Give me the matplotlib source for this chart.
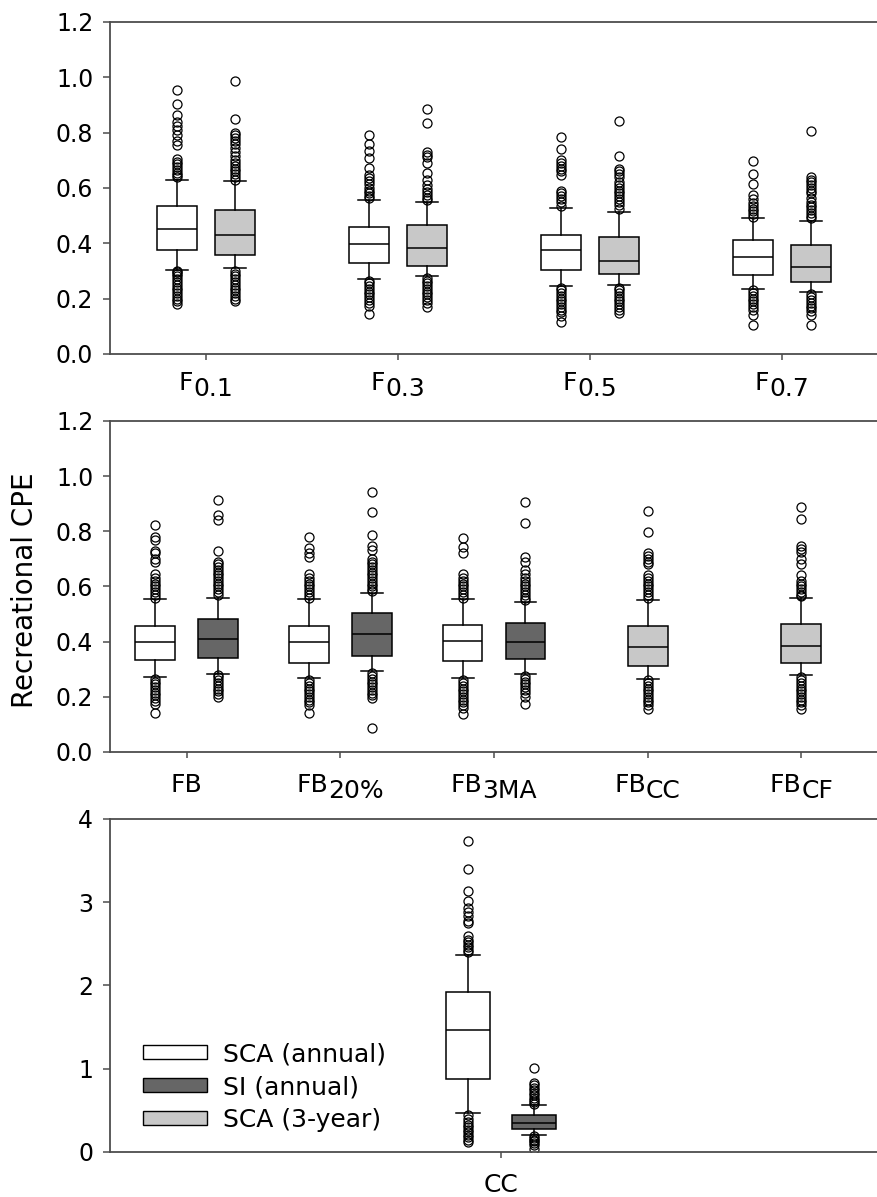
import matplotlib
matplotlib.use("Agg")
import matplotlib.pyplot as plt
from matplotlib.patches import Patch
from matplotlib.transforms import offset_copy

# --- series ---------------------------------------------------------------
series_names = ["SCA (annual)", "SI (annual)", "SCA (3-year)"]
series_colors = {"SCA (annual)": "#ffffff", "SI (annual)": "#666666", "SCA (3-year)": "#c8c8c8"}

# --- panel 1: F0.1 ... F0.7 ---------------------------------------------
p1_labels = [("F", "0.1"), ("F", "0.3"), ("F", "0.5"), ("F", "0.7")]
p1_cat = [1, 1, 2, 2, 3, 3, 4, 4]
p1_series = ["SCA (annual)", "SCA (3-year)"] * 4
p1_q1 = [0.375, 0.357, 0.329, 0.317, 0.304, 0.290, 0.287, 0.259]
p1_med = [0.452, 0.431, 0.399, 0.383, 0.375, 0.335, 0.351, 0.313]
p1_q3 = [0.536, 0.519, 0.459, 0.466, 0.430, 0.422, 0.411, 0.393]
p1_lo = [0.305, 0.310, 0.271, 0.281, 0.245, 0.248, 0.235, 0.223]
p1_hi = [0.629, 0.624, 0.557, 0.548, 0.527, 0.512, 0.490, 0.480]
p1_fliers = [
    [.955, .905, .863, .84, .825, .81, .79, .77, .755, .705, .695, .685, .675, .665, .655, .645, .64,
     .30, .295, .29, .28, .27, .26, .25, .24, .23, .22, .21, .20, .19, .18],
    [.988, .849, .80, .79, .78, .77, .76, .745, .73, .715, .70, .69, .68, .67, .66, .65, .64, .63,
     .30, .29, .28, .27, .26, .25, .24, .23, .22, .21, .20, .19],
    [.793, .757, .733, .708, .672, .645, .635, .625, .615, .60, .59, .58, .57, .565,
     .265, .255, .245, .235, .225, .215, .205, .195, .185, .172, .146],
    [.887, .835, .73, .72, .71, .69, .655, .63, .61, .595, .585, .575, .565, .555,
     .275, .265, .255, .245, .235, .225, .215, .205, .195, .185, .17],
    [.783, .739, .70, .69, .68, .67, .66, .645, .59, .58, .57, .56, .55, .535,
     .24, .23, .22, .21, .20, .19, .18, .17, .16, .15, .136, .114],
    [.841, .717, .67, .66, .65, .64, .62, .61, .60, .59, .58, .57, .56, .55, .54, .525,
     .24, .23, .22, .21, .20, .19, .18, .17, .16, .148],
    [.699, .652, .614, .576, .56, .545, .535, .525, .515, .505, .495,
     .23, .22, .21, .20, .19, .18, .17, .16, .142, .106],
    [.805, .64, .63, .62, .61, .60, .59, .58, .565, .55, .54, .53, .52, .51, .50, .49,
     .215, .205, .195, .185, .175, .165, .155, .142, .106],
]

# --- panel 2: FB variants -------------------------------------------------
p2_labels = [("FB", ""), ("FB", "20%"), ("FB", "3MA"), ("FB", "CC"), ("FB", "CF")]
p2_cat = [1, 1, 2, 2, 3, 3, 4, 5]
p2_series = ["SCA (annual)", "SI (annual)"] * 3 + ["SCA (3-year)", "SCA (3-year)"]
p2_q1 = [0.333, 0.341, 0.323, 0.347, 0.329, 0.336, 0.312, 0.323]
p2_med = [0.397, 0.410, 0.397, 0.426, 0.402, 0.399, 0.379, 0.385]
p2_q3 = [0.457, 0.481, 0.457, 0.502, 0.462, 0.469, 0.457, 0.464]
p2_lo = [0.272, 0.284, 0.269, 0.293, 0.269, 0.281, 0.266, 0.279]
p2_hi = [0.556, 0.560, 0.555, 0.578, 0.555, 0.544, 0.552, 0.559]
p2_fliers = [
    [.823, .78, .77, .73, .72, .70, .69, .647, .63, .62, .61, .60, .59, .58, .57, .56,
     .265, .255, .245, .235, .225, .215, .205, .195, .185, .175, .142],
    [.913, .859, .841, .729, .69, .68, .67, .66, .65, .64, .63, .62, .61, .60, .59, .58, .57,
     .28, .27, .26, .25, .24, .23, .22, .21, .20],
    [.78, .738, .72, .708, .647, .63, .62, .61, .60, .59, .58, .57, .56,
     .26, .25, .24, .23, .22, .21, .20, .19, .18, .17, .142],
    [.944, .871, .786, .746, .732, .70, .69, .68, .67, .66, .65, .64, .63, .62, .61, .60, .59, .585,
     .285, .275, .265, .255, .245, .235, .225, .215, .205, .194, .088],
    [.777, .744, .72, .644, .63, .62, .61, .60, .59, .58, .57, .56,
     .26, .25, .24, .23, .22, .21, .20, .19, .18, .17, .16, .139],
    [.905, .829, .708, .69, .66, .645, .63, .62, .61, .60, .59, .58, .57, .56, .55,
     .275, .265, .255, .245, .235, .225, .215, .20, .175],
    [.875, .798, .72, .71, .70, .69, .68, .64, .63, .62, .61, .60, .59, .58, .57, .56,
     .26, .25, .24, .23, .22, .21, .20, .19, .18, .17, .157],
    [.887, .844, .748, .735, .726, .70, .683, .641, .62, .61, .60, .59, .58, .57, .565,
     .27, .26, .25, .24, .23, .22, .21, .20, .19, .18, .17, .157],
]

# --- panel 3: CC ----------------------------------------------------------
p3_labels = [("CC", "")]
p3_cat = [1, 1]
p3_series = ["SCA (annual)", "SI (annual)"]
p3_q1 = [0.871, 0.281]
p3_med = [1.464, 0.353]
p3_q3 = [1.922, 0.441]
p3_lo = [0.469, 0.209]
p3_hi = [2.367, 0.562]
p3_fliers = [
    [3.731, 3.398, 3.141, 3.009, 2.93, 2.88, 2.83, 2.78, 2.75, 2.60, 2.55, 2.52, 2.49, 2.46, 2.43, 2.40,
     .44, .40, .36, .33, .30, .27, .24, .21, .18, .15, .12],
    [1.011, .83, .80, .77, .74, .71, .68, .65, .62, .60, .58,
     .19, .17, .15, .13, .11, .08, .04],
]

LINE = "#4d4d4d"

fig = plt.figure(figsize=(8.78, 11.97), dpi=100)
ax1 = fig.add_axes([0.1253, 0.7043, 0.8747, 0.2774])
ax2 = fig.add_axes([0.1253, 0.3718, 0.8747, 0.2765])
ax3 = fig.add_axes([0.1253, 0.0376, 0.8747, 0.2782])


def draw_boxes(ax, cat, series, q1, med, q3, lo, hi, fliers, width, offset):
    stats, pos = [], []
    for i in range(len(cat)):
        n_in_cat = cat.count(cat[i])
        k = [j for j in range(len(cat)) if cat[j] == cat[i]].index(i)
        dx = 0 if n_in_cat == 1 else (-offset if k == 0 else offset)
        pos.append(cat[i] + dx)
        stats.append(dict(q1=q1[i], med=med[i], q3=q3[i], whislo=lo[i], whishi=hi[i], fliers=fliers[i]))
    bp = ax.bxp(stats, positions=pos, widths=width, capwidths=0.55 * width,
                patch_artist=True, manage_ticks=False,
                boxprops=dict(edgecolor="black", linewidth=1.1),
                medianprops=dict(color="black", linewidth=1.1),
                whiskerprops=dict(color="black", linewidth=1.1),
                capprops=dict(color="black", linewidth=1.1),
                flierprops=dict(marker="o", markerfacecolor="none", markeredgecolor="black",
                                markersize=6.5, markeredgewidth=0.9))
    for patch, s in zip(bp["boxes"], series):
        patch.set_facecolor(series_colors[s])


def style_axes(ax, ylim, yticks, yfmt, xlim, ncat):
    ax.set_ylim(*ylim)
    ax.set_xlim(*xlim)
    ax.set_yticks(yticks, [yfmt.format(v) for v in yticks])
    ax.set_xticks(range(1, ncat + 1), [""] * ncat)
    ax.spines["right"].set_visible(False)
    for s in ("left", "bottom", "top"):
        ax.spines[s].set_color(LINE)
        ax.spines[s].set_linewidth(1.3)
    ax.tick_params(axis="y", direction="out", length=5, width=1.1, color=LINE, labelsize=17, pad=7)
    ax.tick_params(axis="x", direction="out", length=4, width=1.1, color=LINE)


draw_boxes(ax1, p1_cat, p1_series, p1_q1, p1_med, p1_q3, p1_lo, p1_hi, p1_fliers, 0.208, 0.151)
style_axes(ax1, (0, 1.2), [0, .2, .4, .6, .8, 1.0, 1.2], "{:.1f}", (0.5, 4.5), 4)

draw_boxes(ax2, p2_cat, p2_series, p2_q1, p2_med, p2_q3, p2_lo, p2_hi, p2_fliers, 0.26, 0.205)
style_axes(ax2, (0, 1.2), [0, .2, .4, .6, .8, 1.0, 1.2], "{:.1f}", (0.5, 5.5), 5)

draw_boxes(ax3, p3_cat, p3_series, p3_q1, p3_med, p3_q3, p3_lo, p3_hi, p3_fliers, 0.057, 0.043)
style_axes(ax3, (0, 4), [0, 1, 2, 3, 4], "{:d}", (0.491, 1.491), 1)

fig.text(0.029, 0.507, "Recreational CPE", rotation=90, va="center", ha="center", fontsize=20)

# legend for the three model series
handles = [Patch(facecolor=series_colors[s], edgecolor="black", linewidth=1.0) for s in series_names]
ax3.legend(handles, series_names, loc="lower left", bbox_to_anchor=(0.043, 0.06), frameon=False,
           fontsize=18, borderpad=0, borderaxespad=0, handlelength=2.56, handleheight=0.44,
           handletextpad=0.64, labelspacing=0.36)

# category labels with lowered suffixes
label_texts = []
for ax, labels, gap in ((ax1, p1_labels, 17), (ax2, p2_labels, 21), (ax3, p3_labels, 21)):
    for i, (main, sub) in enumerate(labels):
        trans = ax.get_xaxis_transform()
        t1 = ax.text(i + 1, 0, main, transform=trans, ha="left", va="top", fontsize=18)
        t2 = ax.text(i + 1, 0, sub, transform=trans, ha="left", va="top", fontsize=18)
        label_texts.append((ax, i + 1, t1, t2, gap))

fig.canvas.draw()
renderer = fig.canvas.get_renderer()
for ax, x, t1, t2, gap in label_texts:
    w1 = t1.get_window_extent(renderer).width
    w2 = t2.get_window_extent(renderer).width if t2.get_text() else 0
    start = -(w1 + w2) / 2
    base = ax.get_xaxis_transform()
    t1.set_transform(offset_copy(base, fig=fig, x=start, y=-gap, units="dots"))
    t2.set_transform(offset_copy(base, fig=fig, x=start + w1, y=-gap - 6, units="dots"))

fig.savefig("out.png", dpi=100)
